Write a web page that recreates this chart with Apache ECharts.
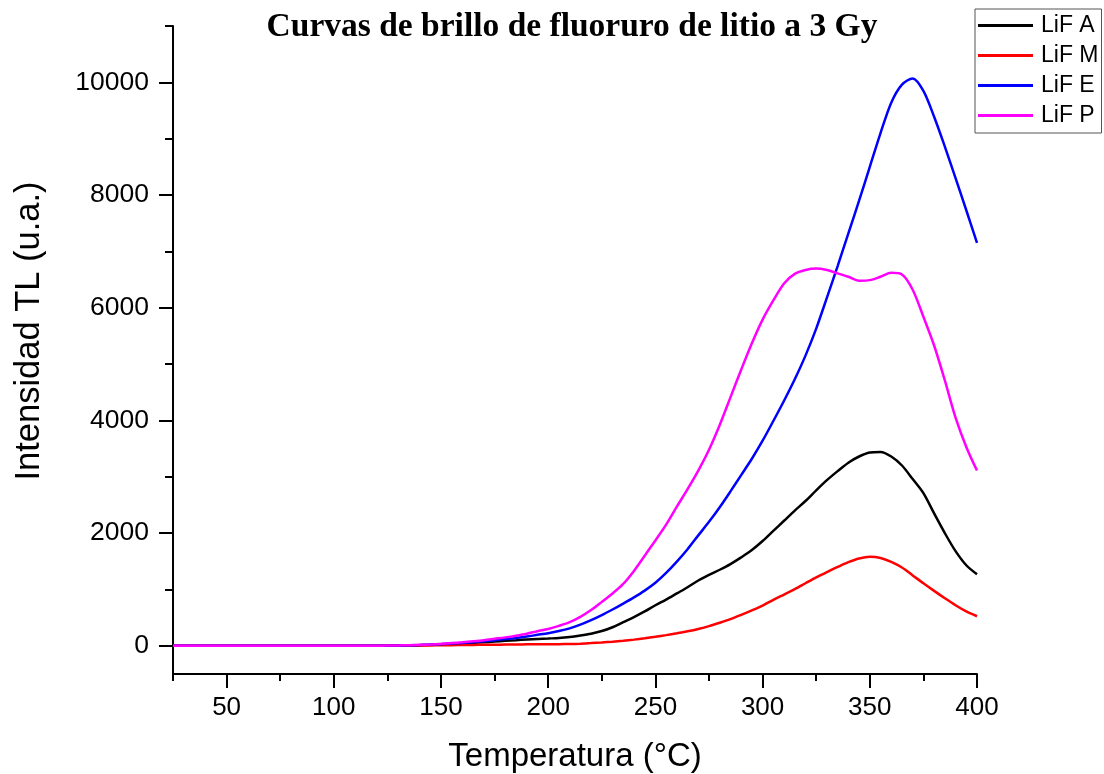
<!DOCTYPE html>
<html>
<head>
<meta charset="utf-8">
<title>Curvas de brillo de fluoruro de litio a 3 Gy</title>
<script src="https://cdn.jsdelivr.net/npm/echarts@6/dist/echarts.min.js"></script>
<style>
  html, body { margin: 0; padding: 0; background: #ffffff; }
  #chart { width: 1104px; height: 774px; }
</style>
</head>
<body>
<div id="chart"></div>
<script>
// Temperatura (°C), paso de 5 °C
const temps = [
  25, 30, 35, 40, 45, 50, 55, 60, 65, 70, 75, 80, 85, 90, 95, 100, 105, 110, 115, 120,
  125, 130, 135, 140, 145, 150, 155, 160, 165, 170, 175, 180, 185, 190, 195, 200,
  205, 210, 215, 220, 225, 230, 235, 240, 245, 250, 255, 260, 265, 270, 275, 280,
  285, 290, 295, 300, 305, 310, 315, 320, 325, 330, 335, 340, 345, 350, 355, 360,
  365, 370, 375, 380, 385, 390, 395, 400
];

// Intensidad TL (u.a.) de cada dosímetro
const lifA = [
  0, 0, 0, 0, 0, 0, 0, 0, 0, 0, 0, 0, 0, 0, 0, 0, 0, 0, 0, 0,
  3, 5, 8, 12, 18, 25, 33, 42, 52, 63, 75, 88, 100, 112, 122, 130,
  138, 155, 182, 215, 262, 330, 420, 510, 610, 720, 820, 930, 1040, 1160, 1260, 1350,
  1450, 1570, 1700, 1860, 2040, 2220, 2400, 2570, 2760, 2940, 3100, 3250, 3360, 3430, 3440, 3360,
  3200, 2960, 2710, 2350, 2000, 1680, 1430, 1270
];
const lifM = [
  0, 0, 0, 0, 0, 0, 0, 0, 0, 0, 0, 0, 0, 0, 0, 0, 0, 0, 0, 0,
  0, 2, 4, 6, 8, 10, 12, 14, 16, 18, 20, 22, 24, 26, 27, 28,
  29, 32, 38, 48, 60, 74, 90, 110, 134, 160, 190, 222, 258, 300, 350, 410,
  475, 550, 630, 715, 815, 910, 1005, 1110, 1215, 1310, 1400, 1485, 1550, 1580, 1560, 1490,
  1390, 1250, 1110, 975, 845, 720, 610, 525
];
const lifE = [
  0, 0, 0, 0, 0, 0, 0, 0, 0, 0, 0, 0, 0, 0, 0, 0, 0, 0, 0, 0,
  3, 6, 10, 15, 22, 30, 40, 52, 65, 80, 100, 120, 140, 165, 195, 225,
  262, 310, 375, 455, 545, 645, 750, 860, 980, 1120, 1295, 1495, 1715, 1960, 2200, 2460,
  2740, 3030, 3320, 3640, 3990, 4350, 4730, 5150, 5630, 6180, 6740, 7320, 7900, 8500, 9100, 9640,
  9960, 10070, 9850, 9390, 8860, 8300, 7730, 7150
];
const lifP = [
  0, 0, 0, 0, 0, 0, 0, 0, 0, 0, 0, 0, 0, 0, 0, 0, 0, 0, 0, 2,
  5, 8, 12, 18, 25, 35, 48, 62, 80, 100, 125, 150, 180, 215, 260, 300,
  355, 420, 515, 635, 780, 930, 1100, 1330, 1600, 1870, 2150, 2470, 2780, 3110, 3480, 3920,
  4410, 4900, 5370, 5790, 6130, 6430, 6600, 6670, 6695, 6670, 6610, 6550, 6480, 6490, 6550, 6620,
  6590, 6320, 5840, 5330, 4710, 4050, 3530, 3110
];

const seriesNames = ['LiF A', 'LiF M', 'LiF E', 'LiF P'];
const seriesColors = ['#000000', '#ff0000', '#0000ff', '#ff00ff'];

// Marcas de los ejes
const xMajorTicks = [50, 100, 150, 200, 250, 300, 350, 400];
const xMinorTicks = [25, 75, 125, 175, 225, 275, 325, 375];
const yMajorTicks = [0, 2000, 4000, 6000, 8000, 10000];
const yMinorTicks = [1000, 3000, 5000, 7000, 9000, 11000];

const xRange = [25, 400];
const yRange = [-500, 11000];

const pairs = (ys) => temps.map((t, i) => [t, ys[i]]);
const curves = [lifA, lifM, lifE, lifP];

const axisColor = '#000000';
const labelFont = 'Liberation Sans, Arial, sans-serif';

const chart = echarts.init(document.getElementById('chart'), null, { renderer: 'canvas' });

chart.setOption({
  animation: false,
  backgroundColor: '#ffffff',
  title: {
    text: 'Curvas de brillo de fluoruro de litio a 3 Gy',
    left: 572,
    top: 10,
    padding: 0,
    textAlign: 'center',
    textStyle: {
      fontFamily: 'Liberation Serif, Times New Roman, serif',
      fontWeight: 'bold',
      fontSize: 33.5,
      color: '#000000'
    }
  },
  legend: {
    orient: 'vertical',
    left: 975,
    top: 9,
    padding: [5, 3, 6, 3],
    itemGap: 7,
    itemWidth: 55,
    itemHeight: 3,
    icon: 'rect',
    borderColor: '#555555',
    borderWidth: 1,
    backgroundColor: '#ffffff',
    textStyle: {
      fontFamily: labelFont,
      fontSize: 23,
      lineHeight: 23,
      color: '#000000',
      padding: [0, 0, 0, 3]
    },
    data: seriesNames
  },
  grid: {
    left: 173,
    right: 127,
    top: 26,
    bottom: 100,
    containLabel: false,
    outerBoundsMode: 'none'
  },
  xAxis: [
    {
      type: 'value',
      position: 'bottom',
      min: xRange[0],
      max: xRange[1],
      name: 'Temperatura (°C)',
      nameLocation: 'middle',
      nameGap: 66,
      nameTextStyle: { fontFamily: labelFont, fontSize: 33, color: '#000000' },
      axisLine: { show: true, onZero: false, lineStyle: { color: axisColor, width: 2 } },
      axisTick: { show: true, inside: false, length: 14, customValues: xMajorTicks, lineStyle: { color: axisColor, width: 2 } },
      axisLabel: { show: true, margin: 21, customValues: xMajorTicks, fontFamily: labelFont, fontSize: 26, color: '#000000', formatter: (v) => String(v) },
      splitLine: { show: false }
    },
    {
      type: 'value',
      position: 'bottom',
      min: xRange[0],
      max: xRange[1],
      axisLine: { show: false, onZero: false },
      axisTick: { show: true, inside: false, length: 7, customValues: xMinorTicks, lineStyle: { color: axisColor, width: 2 } },
      axisLabel: { show: false },
      splitLine: { show: false }
    }
  ],
  yAxis: [
    {
      type: 'value',
      position: 'left',
      min: yRange[0],
      max: yRange[1],
      name: 'Intensidad TL (u.a.)',
      nameLocation: 'middle',
      nameGap: 126,
      nameTextStyle: { fontFamily: labelFont, fontSize: 34.5, color: '#000000', padding: [0, 0, 0, 38] },
      axisLine: { show: true, onZero: false, lineStyle: { color: axisColor, width: 2 } },
      axisTick: { show: true, inside: false, length: 14, customValues: yMajorTicks, lineStyle: { color: axisColor, width: 2 } },
      axisLabel: { show: true, margin: 24, customValues: yMajorTicks, fontFamily: labelFont, fontSize: 26.5, color: '#000000', formatter: (v) => String(v) },
      splitLine: { show: false }
    },
    {
      type: 'value',
      position: 'left',
      min: yRange[0],
      max: yRange[1],
      axisLine: { show: false, onZero: false },
      axisTick: { show: true, inside: false, length: 8, customValues: yMinorTicks, lineStyle: { color: axisColor, width: 2 } },
      axisLabel: { show: false },
      splitLine: { show: false }
    }
  ],
  series: curves.map((ys, i) => ({
    name: seriesNames[i],
    type: 'line',
    xAxisIndex: 0,
    yAxisIndex: 0,
    data: pairs(ys),
    smooth: 0.3,
    symbol: 'none',
    showSymbol: false,
    clip: true,
    color: seriesColors[i],
    lineStyle: { color: seriesColors[i], width: 2.5 },
    emphasis: { disabled: true },
    z: 2 + i
  }))
});
</script>
</body>
</html>
